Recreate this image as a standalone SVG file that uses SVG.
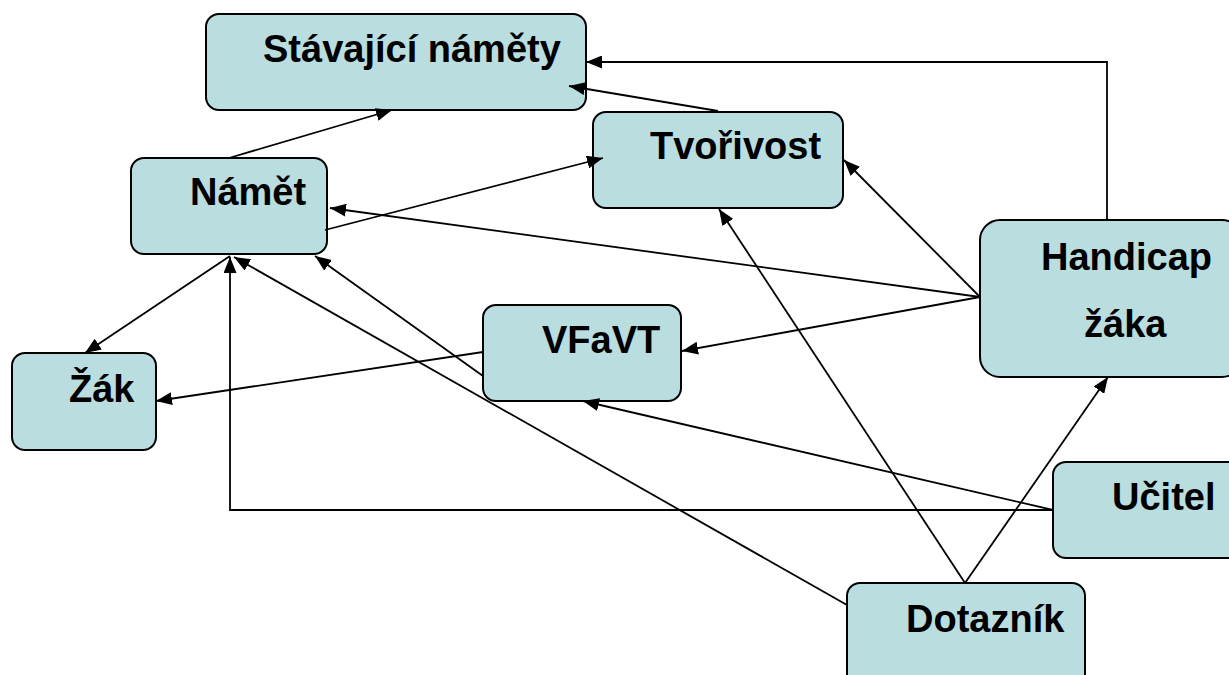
<svg xmlns="http://www.w3.org/2000/svg" width="1229" height="675" viewBox="0 0 1229 675">
<style>
.node rect{fill:#badde0;stroke:#000;stroke-width:2}
.node text{font-family:"Liberation Sans",Arial,sans-serif;font-weight:bold;font-size:38px;fill:#000}
.conn line,.conn polyline{stroke:#000;stroke-width:1.8;fill:none;marker-end:url(#arr)}
</style>
<defs>
<marker id="arr" markerUnits="userSpaceOnUse" markerWidth="17" markerHeight="13" refX="16" refY="6.5" orient="auto">
<path d="M0,0 L16,6.5 L0,13 z" fill="#000"/>
</marker>
</defs>
<rect width="1229" height="675" fill="#fff"/>
<g id="nodes">
<g id="stavajici" class="node"><rect x="206" y="14" width="380" height="96" rx="13"/><text x="263" y="62">Stávající náměty</text></g>
<g id="namet" class="node"><rect x="131" y="158" width="196" height="96" rx="13"/><text x="190" y="205">Námět</text></g>
<g id="tvorivost" class="node"><rect x="593" y="112" width="250" height="96" rx="13"/><text x="650" y="159">Tvořivost</text></g>
<g id="zak" class="node"><rect x="12" y="353" width="144" height="97" rx="13"/><text x="69" y="402">Žák</text></g>
<g id="vfavt" class="node"><rect x="483" y="305" width="198" height="96" rx="13"/><text x="542" y="353">VFaVT</text></g>
<g id="handicap" class="node"><rect x="980" y="220" width="262" height="157" rx="20"/><text x="1041" y="270">Handicap</text><text x="1084" y="337">žáka</text></g>
<g id="ucitel" class="node"><rect x="1053" y="462" width="190" height="96" rx="13"/><text x="1112" y="510">Učitel</text></g>
<g id="dotaznik" class="node"><rect x="847" y="583" width="238" height="110" rx="13"/><text x="906" y="632">Dotazník</text></g>
</g>
<g id="connectors" class="conn">
<polyline points="1107,220 1107,62 586,62"/>
<line x1="718" y1="111" x2="569" y2="86"/>
<line x1="229" y1="158" x2="392" y2="110"/>
<line x1="325" y1="230" x2="603" y2="158"/>
<line x1="980" y1="297" x2="330" y2="208"/>
<line x1="980" y1="297" x2="844" y2="160"/>
<line x1="980" y1="297" x2="682" y2="351"/>
<line x1="230" y1="256" x2="85" y2="353"/>
<line x1="483" y1="352" x2="156" y2="401"/>
<line x1="483" y1="376" x2="315" y2="256"/>
<polyline points="1053,510 230,510 230,257"/>
<line x1="1053" y1="510" x2="583" y2="401"/>
<line x1="965" y1="583" x2="719" y2="209"/>
<line x1="965" y1="583" x2="1108" y2="377"/>
<line x1="847" y1="605" x2="234" y2="257"/>
</g>
</svg>
